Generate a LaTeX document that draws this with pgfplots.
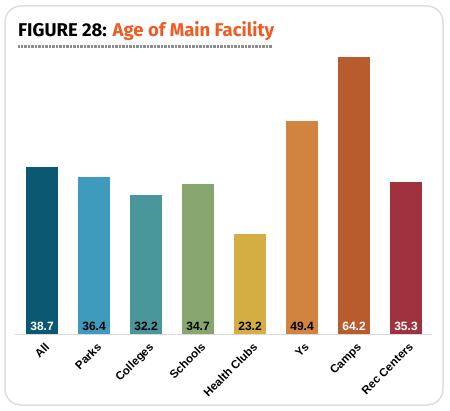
\documentclass[border=0pt]{standalone}
\usepackage{pgfplots}
\pgfplotsset{compat=1.18}
\usepackage{fontspec}
\setmainfont{Liberation Sans}
\newfontfamily\titlefont{Fira Sans}
\definecolor{cAll}{HTML}{0B5873}
\definecolor{cParks}{HTML}{3E9BBE}
\definecolor{cColl}{HTML}{4A979B}
\definecolor{cSch}{HTML}{87A66E}
\definecolor{cHC}{HTML}{D4AE42}
\definecolor{cYs}{HTML}{D0843F}
\definecolor{cCamps}{HTML}{B85C2E}
\definecolor{cRec}{HTML}{A0313E}
\definecolor{titleorange}{HTML}{F15A22}
\begin{document}
\begin{tikzpicture}[x=1pt,y=1pt]
\useasboundingbox (0,0) rectangle (450,410);
\draw[color=black!13, line width=1.5pt, rounded corners=16pt] (5,5) rectangle (443,404);
\node[anchor=base west, inner sep=0pt, font=\titlefont\bfseries\fontsize{18.5}{20}\selectfont] at (18,373) {FIGURE 28: \textcolor{titleorange}{Age of Main Facility}};
\draw[black!45, line width=3pt, dash pattern=on 0.7pt off 0.7pt] (18,363) -- (272,363);
\begin{axis}[
  at={(15pt,76pt)}, anchor=south west,
  scale only axis, width=417pt, height=302pt,
  xmin=-0.52, xmax=7.5, ymin=0, ymax=70,
  axis x line=bottom, axis y line=none,
  x axis line style={-, black!15, line width=1pt},
  xtick={0,1,2,3,4,5,6,7},
  xticklabels={All,Parks,Colleges,Schools,Health Clubs,Ys,Camps,Rec Centers},
  xtick style={draw=none},
  xticklabel style={rotate=45, anchor=north east, font=\bfseries\fontsize{11.5}{12}\selectfont, inner sep=1pt, yshift=-3pt},
  ybar, bar width=32pt, bar shift=0pt,
  clip=false,
]
\addplot[fill=cAll, draw=none] coordinates {(0,38.7)};
\addplot[fill=cParks, draw=none] coordinates {(1,36.4)};
\addplot[fill=cColl, draw=none] coordinates {(2,32.2)};
\addplot[fill=cSch, draw=none] coordinates {(3,34.7)};
\addplot[fill=cHC, draw=none] coordinates {(4,23.2)};
\addplot[fill=cYs, draw=none] coordinates {(5,49.4)};
\addplot[fill=cCamps, draw=none] coordinates {(6,64.2)};
\addplot[fill=cRec, draw=none] coordinates {(7,35.3)};
\addplot[draw=none, fill=none, bar width=0pt, point meta=explicit, nodes near coords,
  nodes near coords style={anchor=south, yshift=0pt, font=\bfseries\fontsize{12}{13}\selectfont, text=white, /pgf/number format/.cd, fixed, precision=1, zerofill, assume math mode=true}]
  coordinates {(0,0) [38.7] (6,0) [64.2] (7,0) [35.3]};
\addplot[draw=none, fill=none, bar width=0pt, point meta=explicit, nodes near coords,
  nodes near coords style={anchor=south, yshift=0pt, font=\bfseries\fontsize{12}{13}\selectfont, text=black, /pgf/number format/.cd, fixed, precision=1, zerofill, assume math mode=true}]
  coordinates {(1,0) [36.4] (2,0) [32.2] (3,0) [34.7] (4,0) [23.2] (5,0) [49.4]};
\end{axis}
\end{tikzpicture}
\end{document}
